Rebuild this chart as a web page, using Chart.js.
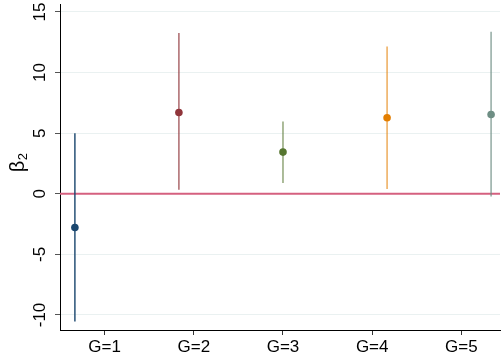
<!DOCTYPE html>
<html>
<head>
<meta charset="utf-8">
<script src="https://cdn.jsdelivr.net/npm/chart.js@4"></script>
<style>
html,body{margin:0;padding:0;background:#fff;}
#wrap{width:504px;height:358px;}
</style>
</head>
<body>
<div id="wrap"><canvas id="c" width="504" height="358"></canvas></div>
<script>
const categories = ['G=1', 'G=2', 'G=3', 'G=4', 'G=5'];
const tickPos = [1, 2, 3, 4, 5];
const pointX = [0.667, 1.833, 3, 4.167, 5.333];
const estimates = [-2.78, 6.71, 3.44, 6.27, 6.54];
const lower = [-10.53, 0.33, 0.88, 0.39, -0.22];
const upper = [5.0, 13.27, 5.97, 12.15, 13.37];
const yTicks = [-10, -5, 0, 5, 10, 15];
const dotColors = ['#1a476f', '#90353b', '#55752f', '#e37e00', '#6e8e84'];
const barColors = ['rgba(26,71,111,0.95)', 'rgba(144,53,59,0.75)', 'rgba(85,117,47,0.65)', 'rgba(227,126,0,0.65)', 'rgba(110,142,132,0.75)'];

const FONT = "'Liberation Sans', Arial, sans-serif";

const datasets = [];
categories.forEach((c, i) => {
  datasets.push({
    type: 'line',
    data: [{x: pointX[i], y: lower[i]}, {x: pointX[i], y: upper[i]}],
    borderColor: barColors[i],
    borderWidth: 1.5,
    pointRadius: 0,
    showLine: true,
    fill: false,
    order: 2
  });
});
datasets.push({
  type: 'scatter',
  data: estimates.map((v, i) => ({x: pointX[i], y: v})),
  backgroundColor: dotColors,
  borderColor: dotColors,
  borderWidth: 0,
  pointRadius: 3.8,
  order: 1
});

const zeroLine = {
  id: 'zeroLine',
  beforeDatasetsDraw(chart) {
    const {ctx, chartArea, scales} = chart;
    const y = scales.y.getPixelForValue(0);
    ctx.save();
    ctx.strokeStyle = '#d5607f';
    ctx.lineWidth = 2;
    ctx.beginPath();
    ctx.moveTo(chartArea.left, y);
    ctx.lineTo(chartArea.right, y);
    ctx.stroke();
    ctx.restore();
  },
  afterDraw(chart) {
    const {ctx, scales} = chart;
    const ys = scales.y;
    ctx.save();
    ctx.fillStyle = '#000';
    ctx.font = '17px ' + FONT;
    ctx.textAlign = 'center';
    ctx.textBaseline = 'middle';
    ys.ticks.forEach(t => {
      const y = ys.getPixelForValue(t.value);
      ctx.save();
      ctx.translate(40, y);
      ctx.rotate(-Math.PI / 2);
      ctx.fillText(String(t.value), 0, 0);
      ctx.restore();
    });
    // axis title beta_2
    const cy = 163;
    ctx.save();
    ctx.translate(24, cy);
    ctx.rotate(-Math.PI / 2);
    ctx.textAlign = 'left';
    ctx.textBaseline = 'alphabetic';
    ctx.font = '20px ' + FONT;
    const w = ctx.measureText('β').width;
    ctx.font = '13px ' + FONT;
    const w2 = ctx.measureText('2').width;
    const total = w + w2;
    ctx.font = '20px ' + FONT;
    ctx.fillText('β', -total / 2, 0);
    ctx.font = '13px ' + FONT;
    ctx.fillText('2', -total / 2 + w + 0.5, 3);
    ctx.restore();
    ctx.restore();
  }
};

new Chart(document.getElementById('c'), {
  data: {datasets},
  options: {
    responsive: false,
    animation: false,
    layout: {padding: {top: 4, left: 0, right: 0, bottom: 0}},
    plugins: {legend: {display: false}, tooltip: {enabled: false}},
    scales: {
      x: {
        type: 'linear',
        min: 0.5,
        max: 5.433,
        afterBuildTicks(scale) { scale.ticks = tickPos.map(v => ({value: v})); },
        afterFit(scale) { scale.height = 28; },
        grid: {display: true, drawOnChartArea: false, drawTicks: true, tickLength: 5, tickColor: '#333', tickWidth: 1},
        border: {display: true, color: '#000', width: 1},
        ticks: {
          color: '#000',
          font: {family: FONT, size: 17},
          padding: 2,
          maxRotation: 0,
          minRotation: 0,
          callback: (v) => { const i = tickPos.indexOf(v); return i >= 0 ? categories[i] : ''; }
        }
      },
      y: {
        type: 'linear',
        min: -11.24,
        max: 15.66,
        afterBuildTicks(scale) { scale.ticks = yTicks.map(v => ({value: v})); },
        afterFit(scale) { scale.width = 60; },
        grid: {display: true, color: '#eaf1f1', lineWidth: 1, drawTicks: true, tickLength: 5, tickColor: '#555', tickWidth: 1},
        border: {display: true, color: '#000', width: 1},
        ticks: {display: false}
      }
    }
  },
  plugins: [zeroLine]
});
</script>
</body>
</html>
